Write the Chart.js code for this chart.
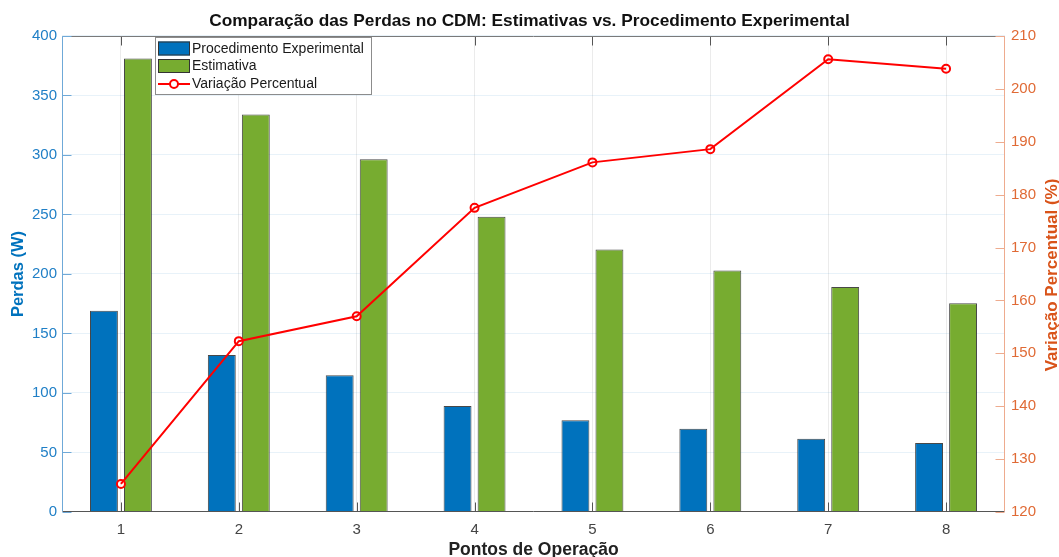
<!DOCTYPE html>
<html>
<head>
<meta charset="utf-8">
<script src="https://cdn.jsdelivr.net/npm/chart.js@4.4.1/dist/chart.umd.min.js"></script>
<style>
html,body{margin:0;padding:0;background:#fff;overflow:hidden;}
#wrap{width:1059px;height:557px;position:relative;}
canvas{display:block;}
</style>
</head>
<body>
<div id="wrap"><canvas id="c" width="1059" height="557"></canvas></div>
<script>
// ---- data ----
const categories = ['1', '2', '3', '4', '5', '6', '7', '8'];
const experimental = [169, 132, 115, 89, 77, 70, 61.5, 58];
const estimativa = [381, 334, 296.5, 248, 220.5, 203, 189, 175.5];
const variacao = [125.3, 152.3, 157.0, 177.5, 186.1, 188.6, 205.6, 203.8];
const leftTicks = [0, 50, 100, 150, 200, 250, 300, 350, 400];
const rightTicks = [120, 130, 140, 150, 160, 170, 180, 190, 200, 210];

const titleText = 'Comparação das Perdas no CDM: Estimativas vs. Procedimento Experimental';
const xTitle = 'Pontos de Operação';
const yTitle = 'Perdas (W)';
const y1Title = 'Variação Percentual (%)';
const seriesNames = ['Procedimento Experimental', 'Estimativa', 'Variação Percentual'];

const FONT = '"Liberation Sans", Arial, Helvetica, sans-serif';
const BLUE = '#0072BD', GREEN = '#77AC30', RED = '#FF0000', ORANGE = '#D95319';

Chart.defaults.font.family = FONT;

const decorPlugin = {
  id: 'decor',
  afterDatasetsDraw(chart) {
    const ctx = chart.ctx;
    const a = chart.chartArea;
    const xs = chart.scales.x, yl = chart.scales.y, yr = chart.scales.y1;
    const L = Math.round(a.left) + 0.5, R = Math.round(a.right) - 0.5;
    const T = Math.round(a.top) + 0.5, B = Math.round(a.bottom) - 0.5;
    const TL = 9;
    ctx.save();
    ctx.lineWidth = 1;
    // x ticks (bottom and top, inward)
    ctx.strokeStyle = '#555';
    ctx.beginPath();
    for (let i = 0; i < categories.length; i++) {
      const x = Math.round(xs.getPixelForTick(i)) + 0.5;
      ctx.moveTo(x, B); ctx.lineTo(x, B - TL);
      ctx.moveTo(x, T); ctx.lineTo(x, T + TL);
    }
    ctx.stroke();
    // top and bottom box lines
    ctx.strokeStyle = '#7a7a7a';
    ctx.beginPath(); ctx.moveTo(L, T); ctx.lineTo(R, T); ctx.stroke();
    ctx.strokeStyle = '#555';
    ctx.beginPath(); ctx.moveTo(L, B); ctx.lineTo(R, B); ctx.stroke();
    // left axis
    ctx.strokeStyle = '#6fa9d8';
    ctx.beginPath(); ctx.moveTo(L, T); ctx.lineTo(L, B);
    leftTicks.forEach(v => { const y = Math.round(yl.getPixelForValue(v)) + 0.5; ctx.moveTo(L, y); ctx.lineTo(L + TL, y); });
    ctx.stroke();
    // right axis
    ctx.strokeStyle = '#eeab8e';
    ctx.beginPath(); ctx.moveTo(R, T); ctx.lineTo(R, B);
    rightTicks.forEach(v => { const y = Math.round(yr.getPixelForValue(v)) + 0.5; ctx.moveTo(R, y); ctx.lineTo(R - TL, y); });
    ctx.stroke();

    // legend box
    const lx = 155, ly = 37, lw = 216, lh = 57;
    ctx.fillStyle = '#fff';
    ctx.fillRect(lx, ly, lw, lh);
    ctx.strokeStyle = '#8c8c8c';
    ctx.strokeRect(lx + 0.5, ly + 0.5, lw, lh);
    const rows = [48.5, 66, 84];
    const ds = chart.data.datasets;
    ctx.font = '14px ' + FONT;
    ctx.textBaseline = 'middle';
    ctx.textAlign = 'left';
    for (let i = 0; i < ds.length; i++) {
      const cy = rows[i];
      if (ds[i].type === 'line') {
        ctx.strokeStyle = ds[i].borderColor; ctx.lineWidth = 2;
        ctx.beginPath(); ctx.moveTo(158, cy); ctx.lineTo(190, cy); ctx.stroke();
        ctx.beginPath(); ctx.arc(174, cy, 4, 0, Math.PI * 2); ctx.fillStyle = '#fff'; ctx.fill(); ctx.stroke();
        ctx.lineWidth = 1;
      } else {
        ctx.fillStyle = ds[i].backgroundColor;
        ctx.fillRect(158, cy - 7, 32, 14);
        ctx.strokeStyle = '#333';
        ctx.strokeRect(158.5, cy - 6.5, 31, 13);
      }
      ctx.fillStyle = '#1a1a1a';
      ctx.fillText(ds[i].label, 192, cy + 0.5);
    }
    // right axis title (reads bottom-to-top)
    ctx.save();
    ctx.translate(1052, (a.top + a.bottom) / 2 + 1);
    ctx.rotate(-Math.PI / 2);
    ctx.font = 'bold 17px ' + FONT;
    ctx.fillStyle = ORANGE;
    ctx.textAlign = 'center';
    ctx.textBaseline = 'middle';
    ctx.fillText(y1Title, 0, 0);
    ctx.restore();
    ctx.restore();
  }
};

new Chart(document.getElementById('c'), {
  data: {
    labels: categories,
    datasets: [
      { type: 'bar', label: seriesNames[0], data: experimental, yAxisID: 'y',
        backgroundColor: BLUE, borderColor: 'rgba(40,40,40,0.85)', borderWidth: 1,
        categoryPercentage: 0.577, barPercentage: 0.82, order: 2 },
      { type: 'bar', label: seriesNames[1], data: estimativa, yAxisID: 'y',
        backgroundColor: GREEN, borderColor: 'rgba(40,40,40,0.85)', borderWidth: 1,
        categoryPercentage: 0.577, barPercentage: 0.82, order: 2 },
      { type: 'line', label: seriesNames[2], data: variacao, yAxisID: 'y1',
        borderColor: RED, backgroundColor: 'rgba(0,0,0,0)', borderWidth: 2,
        pointRadius: 4, pointBorderWidth: 2, pointBackgroundColor: 'rgba(0,0,0,0)',
        pointBorderColor: RED, tension: 0, order: 0 }
    ]
  },
  options: {
    responsive: false,
    animation: false,
    devicePixelRatio: 1,
    layout: { padding: 0 },
    plugins: {
      legend: { display: false },
      tooltip: { enabled: false },
      title: {
        display: true, text: titleText, color: '#111',
        font: { size: 17.3, weight: 'bold', family: FONT, lineHeight: 1.2 },
        padding: { top: 11, bottom: 4.2 }
      }
    },
    scales: {
      x: {
        type: 'category', offset: true,
        grid: { offset: false, color: 'rgba(0,0,0,0.08)', drawTicks: false },
        border: { display: false },
        ticks: { color: '#444', font: { size: 15 }, padding: 9 },
        title: { display: true, text: xTitle, color: '#222',
          font: { size: 17.5, weight: 'bold', lineHeight: 1 }, padding: { top: 0, bottom: -1.5 } },
        afterFit: s => { s.height = 45; }
      },
      y: {
        position: 'left', min: 0, max: 400,
        afterBuildTicks: s => { s.ticks = leftTicks.map(v => ({ value: v })); },
        grid: { color: 'rgba(0,114,189,0.09)', drawTicks: false },
        border: { display: false },
        ticks: { color: '#1f7fc6', font: { size: 15 }, padding: 5 },
        title: { display: true, text: yTitle, color: BLUE,
          font: { size: 16.5, weight: 'bold', lineHeight: 1.2 }, padding: { top: 8.5, bottom: 0 } },
        afterFit: s => { s.width = 62; }
      },
      y1: {
        position: 'right', min: 120, max: 210,
        afterBuildTicks: s => { s.ticks = rightTicks.map(v => ({ value: v })); },
        grid: { display: false, drawTicks: false },
        border: { display: false },
        ticks: { color: '#e06a35', font: { size: 15 }, padding: 6 },
        afterFit: s => { s.width = 54; }
      }
    }
  },
  plugins: [decorPlugin]
});
</script>
</body>
</html>
